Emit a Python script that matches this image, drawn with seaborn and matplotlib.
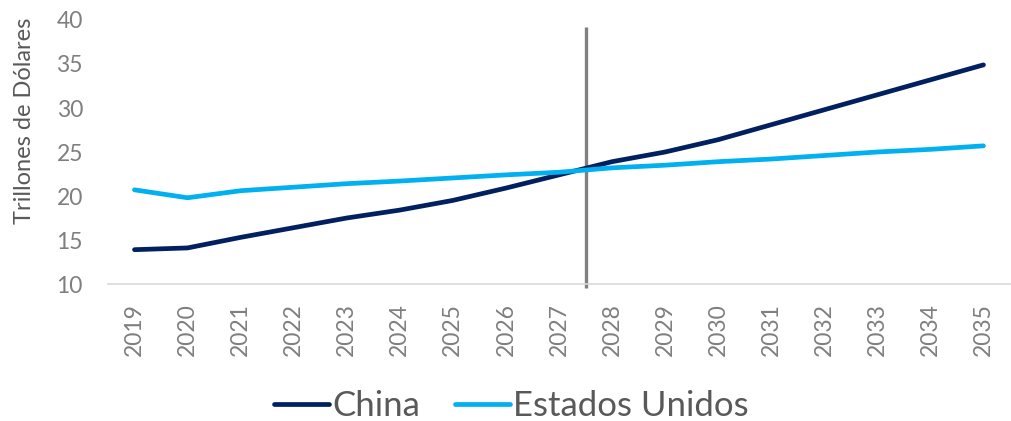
import matplotlib
matplotlib.use("Agg")
import matplotlib.pyplot as plt
import seaborn as sns
import pandas as pd

years = list(range(2019, 2036))
china = [13.9, 14.1, 15.3, 16.4, 17.5, 18.4, 19.5, 20.9, 22.4, 23.9, 25.0, 26.4, 28.1, 29.8, 31.5, 33.2, 34.9]
usa = [20.7, 19.8, 20.6, 21.0, 21.4, 21.7, 22.05, 22.4, 22.7, 23.2, 23.5, 23.9, 24.2, 24.6, 25.0, 25.3, 25.7]
series_names = ["China", "Estados Unidos"]
colors = ["#002060", "#00B0F0"]
yticks = [10, 15, 20, 25, 30, 35, 40]
split_year = 2027.5

sns.set_theme(style="white")
plt.rcParams["font.family"] = ["Lato", "DejaVu Sans"]

df = pd.DataFrame({"Año": years * 2,
                   "Valor": china + usa,
                   "Serie": [series_names[0]] * len(years) + [series_names[1]] * len(years)})

fig = plt.figure(figsize=(10.12, 4.21), dpi=100)
ax = fig.add_axes([0.1067, 0.3254, 0.8913, 0.6271])

sns.lineplot(data=df, x="Año", y="Valor", hue="Serie", palette=colors, ax=ax,
             linewidth=3.4, solid_capstyle="round", legend=True)

ax.vlines(split_year, 9.6, 39.2, color="#808080", linewidth=2.4, clip_on=False, zorder=1)

ax.set_xlim(years[0] - 0.5, years[-1] + 0.5)
ax.set_ylim(10, 40)
ax.set_yticks(yticks)
ax.set_xticks(years)
ax.set_xticklabels([str(y) for y in years], rotation=90)
ax.tick_params(axis="both", colors="#7f7f7f", labelsize=16.5, length=0)
ax.tick_params(axis="y", pad=18)
ax.tick_params(axis="x", pad=14)
for lab in ax.get_xticklabels() + ax.get_yticklabels():
    lab.set_color("#7f7f7f")
ax.set_xlabel("")
ax.set_ylabel("Trillones de Dólares", fontsize=17, color="#595959")
ax.yaxis.set_label_coords(-0.081, 0.62)
for s in ["top", "right", "left"]:
    ax.spines[s].set_visible(False)
ax.spines["bottom"].set_color("#d9d9d9")
ax.spines["bottom"].set_linewidth(1.2)

handles, labels = ax.get_legend_handles_labels()
ax.legend(handles, labels, loc="center", ncol=2, frameon=False, fontsize=25,
          labelcolor="#595959", handlelength=1.6, handletextpad=0.08, columnspacing=1.0)
leg = ax.get_legend()
leg.set_bbox_to_anchor((0.505, 0.035), transform=fig.transFigure)
for line in leg.get_lines():
    line.set_linewidth(3.4)
    line.set_solid_capstyle("round")

fig.savefig("out.png", dpi=100)
